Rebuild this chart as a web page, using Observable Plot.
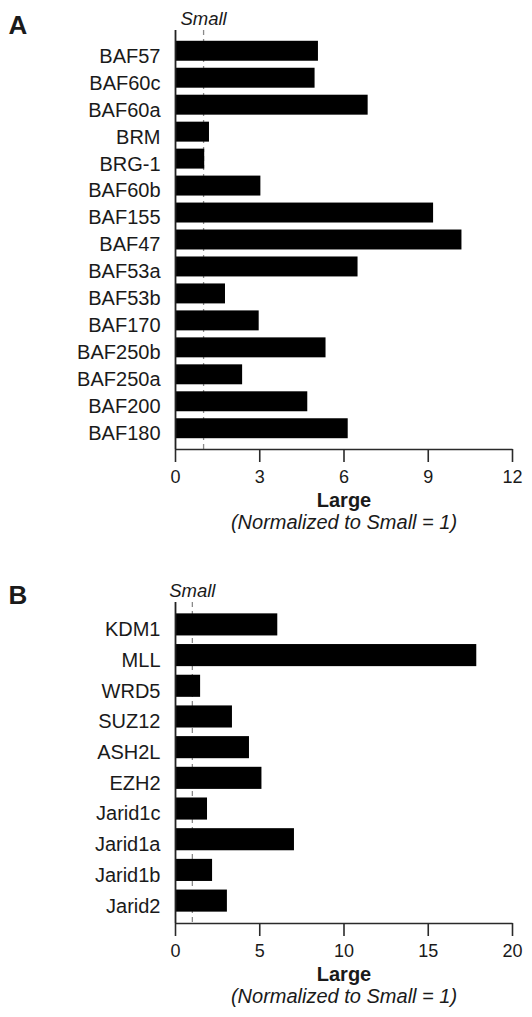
<!DOCTYPE html>
<html><head><meta charset="utf-8">
<script src="https://cdn.jsdelivr.net/npm/d3@7"></script>
<script src="https://cdn.jsdelivr.net/npm/@observablehq/plot@0.6"></script>
<style>body{margin:0;background:#fff} #chart svg{display:block}</style>
</head><body><div id="chart"></div>
<script>
const panelALabels = ["BAF57","BAF60c","BAF60a","BRM","BRG-1","BAF60b","BAF155","BAF47","BAF53a","BAF53b","BAF170","BAF250b","BAF250a","BAF200","BAF180"];
const panelAValues = [5.09, 4.97, 6.86, 1.21, 1.04, 3.04, 9.19, 10.2, 6.50, 1.78, 2.98, 5.36, 2.39, 4.71, 6.15];
const panelATicks = [0, 3, 6, 9, 12];

const panelBLabels = ["KDM1","MLL","WRD5","SUZ12","ASH2L","EZH2","Jarid1c","Jarid1a","Jarid1b","Jarid2"];
const panelBValues = [6.07, 17.88, 1.49, 3.38, 4.39, 5.13, 1.90, 7.06, 2.20, 3.08];
const panelBTicks = [0, 5, 10, 15, 20];

const referenceValue = [1];
const refLabel = "Small";
const axisTitle = "Large";
const axisSubtitle = "(Normalized to Small = 1)";

function panel({letter, labels, values, ticks, height, marginTop, marginBottom, paddingInner, paddingOuter, letterDy}) {
  const data = labels.map((name, i) => ({name, value: values[i]}));
  const ML = 175, MR = 20;
  const xMax = ticks[ticks.length - 1];
  return Plot.plot({
    width: 532, height, marginLeft: ML, marginRight: MR, marginTop, marginBottom,
    style: {fontFamily: "'Liberation Sans', Arial, sans-serif", background: "white", color: "#1a1a1a", overflow: "visible"},
    x: {domain: [0, xMax], axis: null},
    y: {domain: labels, paddingInner, paddingOuter, round: false, axis: null},
    marks: [
      Plot.ruleX(referenceValue, {stroke: "#8a8a8a", strokeDasharray: "5,4", strokeWidth: 1.3}),
      Plot.barX(data, {x: "value", y: "name", fill: "black"}),
      Plot.ruleX([0], {stroke: "#222", strokeWidth: 1.8}),
      (index, scales, vals, dims) => {
        const y = dims.height - dims.marginBottom + 0.5;
        return d3.create("svg:line")
          .attr("x1", scales.x(0) + 0.5).attr("x2", scales.x(xMax) + 0.5)
          .attr("y1", y).attr("y2", y)
          .attr("stroke", "#2a2a2a").attr("stroke-width", 1.6).node();
      },
      Plot.axisX({ticks, tickSize: 13, tickPadding: 8, fontSize: 18, label: null, stroke: "#2a2a2a", strokeWidth: 1.6}),
      Plot.axisY({tickSize: 0, tickPadding: 15, fontSize: 20, label: null, dy: 5}),
      Plot.text(referenceValue, {x: d => d, frameAnchor: "top", lineAnchor: "bottom", dy: -6, text: () => refLabel, fontSize: 18.5, fontStyle: "italic"}),
      Plot.text([letter], {frameAnchor: "top-left", textAnchor: "start", lineAnchor: "bottom", dx: -(ML - 8), dy: letterDy, text: d => d, fontSize: 26, fontWeight: "bold"}),
      Plot.text([axisTitle], {frameAnchor: "bottom", lineAnchor: "bottom", dy: 57, text: d => d, fontSize: 20, fontWeight: "bold"}),
      Plot.text([axisSubtitle], {frameAnchor: "bottom", lineAnchor: "bottom", dy: 79, text: d => d, fontSize: 20, fontStyle: "italic"})
    ]
  });
}

const chart = document.getElementById("chart");
chart.append(panel({letter: "A", labels: panelALabels, values: panelAValues, ticks: panelATicks,
  height: 540, marginTop: 30, marginBottom: 91, paddingInner: 0.26, paddingOuter: 0.4, letterDy: 3}));
chart.append(panel({letter: "B", labels: panelBLabels, values: panelBValues, ticks: panelBTicks,
  height: 477, marginTop: 62, marginBottom: 94, paddingInner: 0.28, paddingOuter: 0.37, letterDy: 1}));
</script></body></html>
